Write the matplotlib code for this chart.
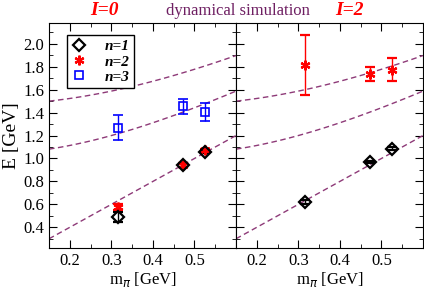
import numpy as np
import matplotlib
matplotlib.use('Agg')
import matplotlib.pyplot as plt
from matplotlib.ticker import MultipleLocator

plt.rcParams['font.family'] = ['Liberation Serif', 'DejaVu Serif']
plt.rcParams['mathtext.fontset'] = 'custom'
plt.rcParams['mathtext.rm'] = 'Liberation Serif'

# pion masses [GeV]
m_pi = [0.317, 0.472, 0.526]

# I=0 levels
i0_n1 = [0.49, 0.94, 1.06]
i0_n1_err = [0.04, 0.015, 0.015]
i0_n2 = [0.575, 0.945, 1.07]
i0_n2_err = [0.025, 0.015, 0.015]
i0_n3 = [1.27, 1.455, 1.405]
i0_n3_err = [0.108, 0.065, 0.075]

# I=2 levels
i2_n1 = [0.62, 0.97, 1.085]
i2_n1_err = [0.015, 0.012, 0.012]
i2_n2 = [1.815, 1.735, 1.775]
i2_n2_err = [0.265, 0.06, 0.1]

# free two-pion levels: E = 2 sqrt(m^2 + p^2)
p2_levels = [0.0, 0.27, 0.54]
curve_col = '#8e3a78'

fig = plt.figure(figsize=(4.24, 2.89), dpi=100)
ax1 = fig.add_axes([0.1156, 0.142, 0.441, 0.778])
ax2 = fig.add_axes([0.5566, 0.142, 0.441, 0.778])

mm = np.linspace(0.15, 0.6, 100)
for ax in (ax1, ax2):
    for p2 in p2_levels:
        ax.plot(mm, 2 * np.sqrt(mm**2 + p2), ls=(0, (4, 2.5)), color=curve_col, lw=1.0)
    ax.set_xlim(0.15, 0.6)
    ax.set_ylim(0.22, 2.18)
    ax.xaxis.set_major_locator(MultipleLocator(0.1))
    ax.xaxis.set_minor_locator(MultipleLocator(0.05))
    ax.yaxis.set_major_locator(MultipleLocator(0.2))
    ax.yaxis.set_minor_locator(MultipleLocator(0.1))
    ax.tick_params(which='both', direction='in', top=True, right=True, labelsize=12)
    ax.tick_params(which='major', length=6)
    ax.tick_params(which='minor', length=3)
    ax.set_xticks([0.2, 0.3, 0.4, 0.5])
    ax.set_xlabel(r'm$_\pi$ [GeV]', fontsize=12, labelpad=1)

ekw = dict(ls='none', capsize=3.5, elinewidth=1, capthick=1)

ax1.errorbar(m_pi, i0_n2, yerr=i0_n2_err, marker=(6, 2, 0), ms=7, color='red', mew=1.6, **ekw, label='n=2')
ax1.errorbar(m_pi, i0_n1, yerr=i0_n1_err, marker='D', ms=6, mfc='none', mec='black', mew=1.6, color='black', **ekw, label='n=1')
ax1.errorbar(m_pi, i0_n3, yerr=i0_n3_err, marker='s', ms=6, mfc='none', mec='blue', mew=1.2, color='blue', **ekw, label='n=3')

ax2.errorbar(m_pi, i2_n1, yerr=i2_n1_err, marker='D', ms=6, mfc='none', mec='black', mew=1.6, color='black', **ekw)
ax2.errorbar(m_pi, i2_n2, yerr=i2_n2_err, marker=(6, 2, 0), ms=7, color='red', mew=1.6, **ekw)

ax1.set_ylabel('E [GeV]', fontsize=14, labelpad=2)
ax2.tick_params(labelleft=False)

h, l = ax1.get_legend_handles_labels()
order = [1, 0, 2]
handles = []
for i in order:
    hh = h[i][0]
    handles.append(plt.Line2D([], [], ls='none', marker=hh.get_marker(), ms=hh.get_markersize(),
                              mfc=hh.get_markerfacecolor(), mec=hh.get_markeredgecolor(), mew=hh.get_markeredgewidth()))
leg = ax1.legend(handles, [l[i] for i in order], loc='upper left', bbox_to_anchor=(0.095, 0.947),
                 prop={'style': 'italic', 'weight': 'bold', 'size': 11}, fancybox=False,
                 edgecolor='black', handlelength=1.0, handletextpad=1.2, labelspacing=0.1,
                 borderpad=0.3, borderaxespad=0, framealpha=1)
leg.get_frame().set_linewidth(1.0)

fig.text(0.246, 0.963, 'I=0', color='red', fontsize=14, fontweight='bold', style='italic', ha='center', va='center')
fig.text(0.825, 0.963, 'I=2', color='red', fontsize=14, fontweight='bold', style='italic', ha='center', va='center')
fig.text(0.56, 0.963, 'dynamical simulation', color='#6e1f62', fontsize=12, ha='center', va='center')

fig.savefig('out.png', dpi=100)
